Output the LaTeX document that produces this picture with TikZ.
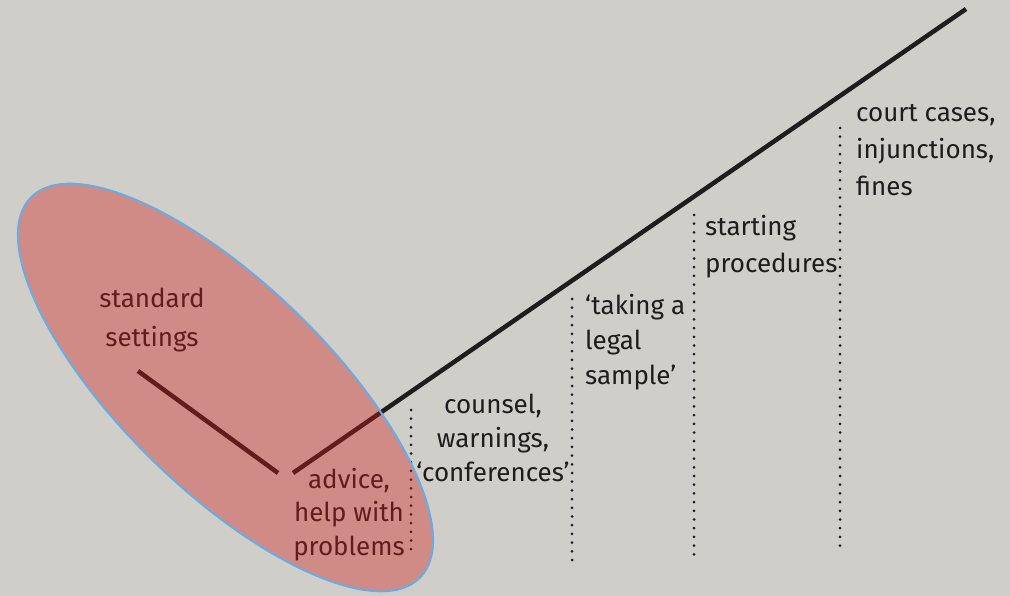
\documentclass[tikz,border=0pt]{standalone}
\usepackage{fontspec}
\setmainfont{Fira Sans}
\usetikzlibrary{shapes.geometric}
\definecolor{paper}{RGB}{208,206,201}
\definecolor{ink}{RGB}{30,28,28}
\definecolor{veil}{RGB}{210,30,30}
\definecolor{rim}{RGB}{105,172,226}
\begin{document}
\begin{tikzpicture}[x=1pt,y=-1pt,
  lbl/.style={font=\fontsize{26}{35}\selectfont, text=ink, inner sep=0pt},
  bar/.style={draw=ink, line width=4.5pt},
  dotline/.style={draw=ink, line width=3pt, line cap=round, dash pattern=on 0pt off 8.7pt},
]
\fill[paper] (0,0) rectangle (1010,596);
\useasboundingbox (0,0) rectangle (1010,596);

% lines
\coordinate (s1) at (138,371);
\coordinate (s2) at (278,473);
\coordinate (m1) at (293,473);
\coordinate (m2) at (966,9);
\draw[bar] (s1) -- (s2);
\draw[bar] (m1) -- (m2);

% dotted separators
\coordinate (d1t) at (411,410); \coordinate (d1b) at (411,556);
\coordinate (d2t) at (572,299); \coordinate (d2b) at (572,562);
\coordinate (d3t) at (694,215); \coordinate (d3b) at (694,557);
\coordinate (d4t) at (840,128); \coordinate (d4b) at (840,553);
\draw[dotline] (d1t) -- (d1b);
\draw[dotline] (d2t) -- (d2b);
\draw[dotline] (d3t) -- (d3b);
\draw[dotline] (d4t) -- (d4b);

% labels
\node[lbl, anchor=north, align=center] (std) at (152,288) {standard\\[4pt]settings};
\node[lbl, anchor=north, align=center, font=\fontsize{26}{33.5}\selectfont] (adv) at (349,468) {advice,\\help with\\problems};
\node[lbl, anchor=north, align=center, font=\fontsize{26}{34}\selectfont] (cou) at (493,394) {counsel,\\warnings,\\‘conferences’};
\node[lbl, anchor=north west, align=left] (tak) at (585,294) {‘taking a\\legal\\sample’};
\node[lbl, anchor=north west, align=left, font=\fontsize{26}{37}\selectfont] (sta) at (705,215) {starting\\procedures};
\node[lbl, anchor=north west, align=left, font=\fontsize{26}{37}\selectfont] (cou2) at (856,104) {court cases,\\injunctions,\\fines};

% translucent zone
\node[ellipse, minimum width=544pt, minimum height=206pt, inner sep=0pt,
      rotate=-44.3, fill=veil, fill opacity=0.38, draw=rim, line width=2pt] (zone) at (225.5,387.5) {};
\end{tikzpicture}
\end{document}
